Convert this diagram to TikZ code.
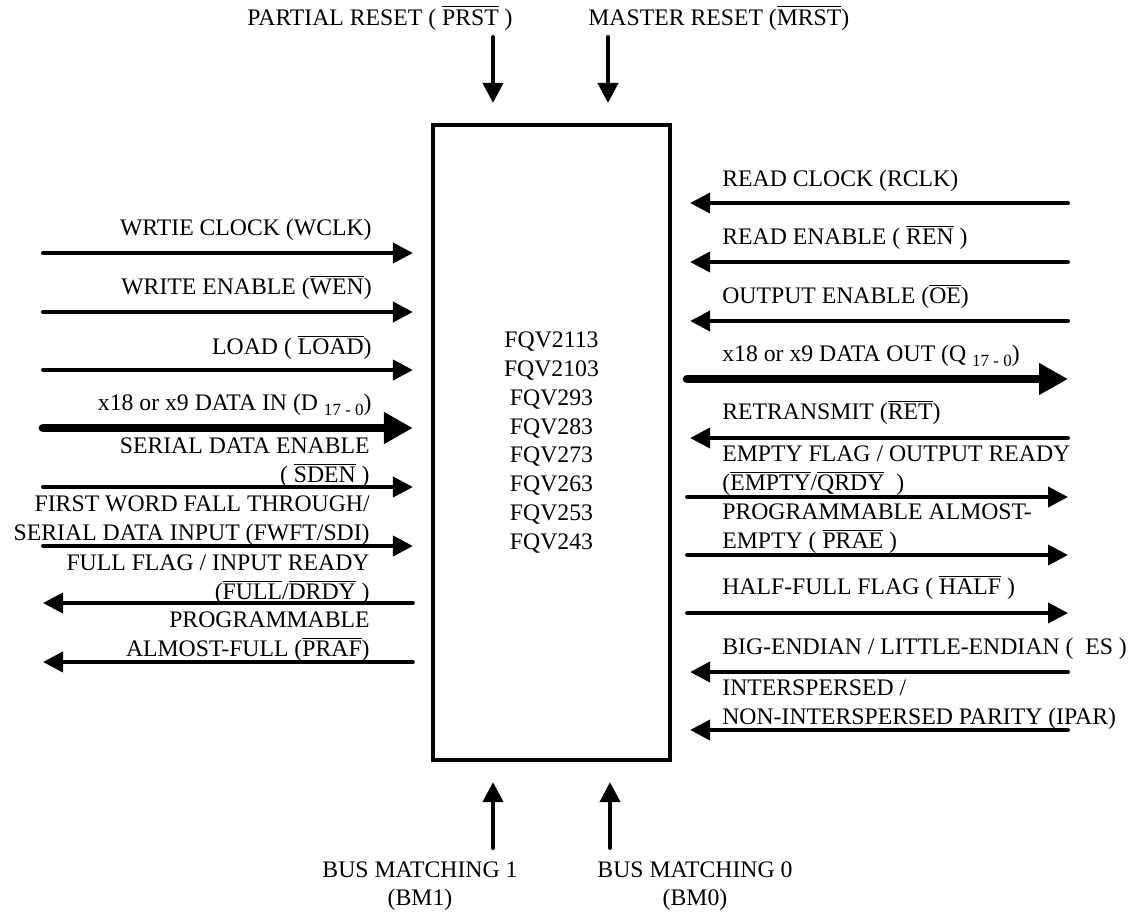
\documentclass[tikz,border=0pt]{standalone}
\usepackage{fontspec}
\setmainfont{Liberation Serif}
\usepackage{tikz}
\usetikzlibrary{arrows.meta}
\newcommand{\ovl}[1]{$\overline{\mbox{#1}}$}
\newcommand{\lowidx}[1]{\raisebox{-0.5ex}{\fontsize{9.7}{11}\selectfont #1}}

\begin{document}
\begin{tikzpicture}[
  font=\fontsize{13.5}{16.4}\selectfont,
  chip/.style={draw,line width=2.4pt,minimum width=4.74cm,minimum height=12.7cm,
    align=center,inner sep=0pt},
  sig/.style={line width=2.3pt,line cap=round,-{Triangle[length=0.4cm,width=0.4cm]}},
  bus/.style={line width=5pt,line cap=round,-{Triangle[length=0.58cm,width=0.6cm]}},
  lleft/.style={anchor=south east,align=right,inner sep=0pt},
  lright/.style={anchor=south west,align=left,inner sep=0pt}
]
  \useasboundingbox (0,0) rectangle (22.56,-18.26);

  \node[chip] (fifo) at (11.03,-8.85)
    {FQV2113\\FQV2103\\FQV293\\FQV283\\FQV273\\FQV263\\FQV253\\FQV243};

  % free ends, left side
  \coordinate (wclk) at (0.86,-5.06);
  \coordinate (wen)  at (0.86,-6.24);
  \coordinate (load) at (0.86,-7.40);
  \coordinate (din)  at (0.86,-8.56);
  \coordinate (sden) at (0.86,-9.74);
  \coordinate (fwft) at (0.86,-10.92);
  \coordinate (full) at (0.86,-12.06);
  \coordinate (praf) at (0.86,-13.24);

  % free ends, right side
  \coordinate (rclk)  at (21.36,-4.06);
  \coordinate (ren)   at (21.36,-5.24);
  \coordinate (oe)    at (21.36,-6.42);
  \coordinate (qout)  at (21.36,-7.58);
  \coordinate (ret)   at (21.36,-8.76);
  \coordinate (empty) at (21.36,-9.94);
  \coordinate (prae)  at (21.36,-11.10);
  \coordinate (half)  at (21.36,-12.26);
  \coordinate (es)    at (21.36,-13.44);
  \coordinate (ipar)  at (21.36,-14.60);

  % free ends, top and bottom
  \coordinate (prst)  at (9.86,-0.74);
  \coordinate (mrst)  at (12.16,-0.74);
  \coordinate (bmone) at (9.86,-16.96);
  \coordinate (bmzero) at (12.20,-16.96);

  \foreach \s in {wclk,wen,load,sden,fwft} {
    \draw[sig,shorten >=0.36cm] (\s) -- (\s -| fifo.west);
  }
  \draw[bus,shorten >=0.36cm] (din) -- (din -| fifo.west);
  \foreach \s in {full,praf} {
    \draw[sig,shorten <=0.36cm] (\s -| fifo.west) -- (\s);
  }
  \foreach \s in {rclk,ren,oe,ret,es,ipar} {
    \draw[sig,shorten >=0.36cm] (\s) -- (\s -| fifo.east);
  }
  \draw[bus,shorten <=0.3cm] (qout -| fifo.east) -- (qout);
  \foreach \s in {empty,prae,half} {
    \draw[sig,shorten <=0.3cm] (\s -| fifo.east) -- (\s);
  }
  \foreach \s in {prst,mrst} {
    \draw[sig,shorten >=0.4cm] (\s) -- (\s |- fifo.north);
  }
  \foreach \s in {bmone,bmzero} {
    \draw[sig,shorten >=0.4cm] (\s) -- (\s |- fifo.south);
  }

  \node[lleft] (wclk-l) at (7.44,-4.82) {WRTIE CLOCK (WCLK)};
  \node[lleft] (wen-l)  at (7.44,-6.00) {WRITE ENABLE (\ovl{WEN})};
  \node[lleft] (load-l) at (7.44,-7.20) {LOAD ( \ovl{LOAD})};
  \node[lleft] (din-l)  at (7.44,-8.32) {x18 or x9 DATA IN (D \lowidx{17 - 0})};
  \node[lleft] (sden-l) at (7.40,-9.76) {SERIAL DATA ENABLE\\( \ovl{SDEN} )};
  \node[lleft] (fwft-l) at (7.40,-10.92) {FIRST WORD FALL THROUGH/\\SERIAL DATA INPUT (FWFT/SDI)};
  \node[lleft] (full-l) at (7.40,-12.10) {FULL FLAG / INPUT READY\\(\ovl{FULL}/\ovl{DRDY} )};
  \node[lleft] (praf-l) at (7.40,-13.24) {PROGRAMMABLE\\ALMOST-FULL (\ovl{PRAF})};

  \node[lright] (rclk-l)  at (14.44,-3.84) {READ CLOCK (RCLK)};
  \node[lright] (ren-l)   at (14.44,-5.00) {READ ENABLE ( \ovl{REN} )};
  \node[lright] (oe-l)    at (14.44,-6.18) {OUTPUT ENABLE (\ovl{OE})};
  \node[lright] (qout-l)  at (14.44,-7.34) {x18 or x9 DATA OUT (Q \lowidx{17 - 0})};
  \node[lright] (ret-l)   at (14.44,-8.50) {RETRANSMIT (\ovl{RET})};
  \node[lright] (empty-l) at (14.44,-9.92) {EMPTY FLAG / OUTPUT READY\\(\ovl{EMPTY}/\ovl{QRDY}~~)};
  \node[lright] (prae-l)  at (14.44,-11.08) {PROGRAMMABLE ALMOST-\\EMPTY ( \ovl{PRAE} )};
  \node[lright] (half-l)  at (14.44,-12.00) {HALF-FULL FLAG ( \ovl{HALF} )};
  \node[lright] (es-l)    at (14.44,-13.20) {BIG-ENDIAN / LITTLE-ENDIAN (~~ES )};
  \node[lright] (ipar-l)  at (14.44,-14.60) {INTERSPERSED /\\NON-INTERSPERSED PARITY (IPAR)};

  \node[anchor=base west,inner sep=0pt] (prst-l) at (4.94,-0.50) {PARTIAL RESET ( \ovl{PRST} )};
  \node[anchor=base west,inner sep=0pt] (mrst-l) at (11.76,-0.50) {MASTER RESET (\ovl{MRST})};
  \node[anchor=north,align=center,inner sep=0pt] (bmone-l) at (8.40,-17.22) {BUS MATCHING 1\\(BM1)};
  \node[anchor=north,align=center,inner sep=0pt] (bmzero-l) at (13.90,-17.22) {BUS MATCHING 0\\(BM0)};
\end{tikzpicture}
\end{document}
